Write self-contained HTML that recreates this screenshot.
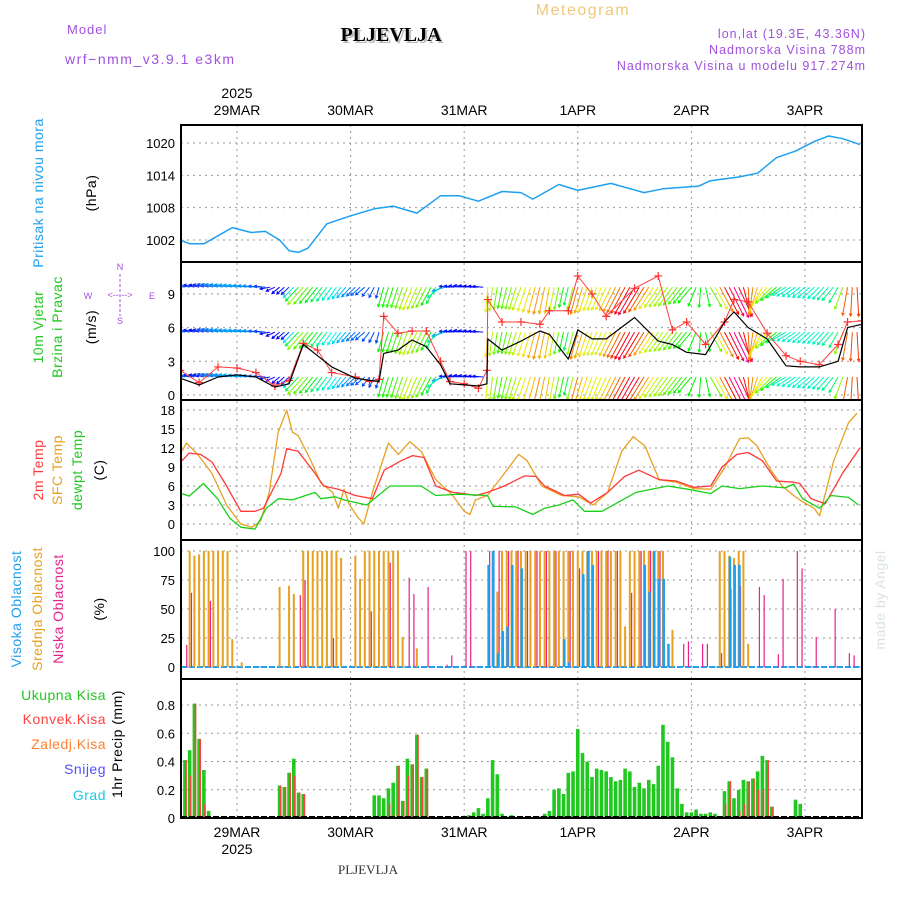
<!DOCTYPE html>
<html><head><meta charset="utf-8"><style>
body{margin:0;background:#fff}
svg text{font-family:"Liberation Sans",sans-serif}
</style></head><body>
<svg id="c" width="900" height="900" viewBox="0 0 900 900" xmlns="http://www.w3.org/2000/svg">
<text x="583" y="15" font-size="16" fill="#f0c878" text-anchor="middle" letter-spacing="1.5">Meteogram</text>
<text x="393" y="43" font-size="20" font-weight="bold" fill="#bbb" text-anchor="middle" style="font-family:'Liberation Serif',serif">PLJEVLJA</text>
<text x="391" y="41" font-size="20" font-weight="bold" fill="#000" text-anchor="middle" style="font-family:'Liberation Serif',serif">PLJEVLJA</text>
<text x="67" y="34" font-size="13" fill="#a050e0" letter-spacing="1">Model</text>
<text x="65" y="64" font-size="14" fill="#a050e0" letter-spacing="1.5">wrf−nmm_v3.9.1  e3km</text>
<text x="866" y="38" font-size="12.5" fill="#a050e0" text-anchor="end" letter-spacing="1">lon,lat (19.3E, 43.36N)</text>
<text x="866" y="54" font-size="12.5" fill="#a050e0" text-anchor="end" letter-spacing="1">Nadmorska Visina 788m</text>
<text x="866" y="70" font-size="12.5" fill="#a050e0" text-anchor="end" letter-spacing="1">Nadmorska Visina u modelu 917.274m</text>
<g id="g"></g>
</svg>
<script>
// ---------- data ----------
const dayLabels=["29MAR","30MAR","31MAR","1APR","2APR","3APR"];
const pHours=[-12,-10,-7,-4,-1,3,6,9,11,13,15,19,24,29,33,38,43,47,51,56,60,62.5,68,72,79,86,90,97.6,100,106,110,114,118,122,125,128,131.6];
const pVals=[1002,1001.3,1001.3,1002.8,1004.3,1003.4,1003.6,1002,1000,999.7,1000.5,1005,1006.5,1007.8,1008.3,1007,1010.2,1010.2,1009.2,1011,1010.8,1009.6,1012.3,1011.2,1012.5,1010.8,1011.5,1012,1013,1013.7,1014.4,1017.3,1018.5,1020.3,1021.3,1020.8,1019.7];
const pTicks=[1002,1008,1014,1020];
const wHours=[-12,-8,-4,0,4,8,11,14,17,20,25,28,30,31,34,37,40,43,45,48,51,52.8,53,56,60,64,66,70,72,75,78,84,89,92,95,99,103,105,108,112,116,119,123,127,129,132];
const wSpeed=[1.5,0.9,1.6,1.8,1.6,0.7,1.0,4.5,3.5,2.5,1.5,1.3,1.2,3.7,4.0,4.9,4.3,2.7,1.0,0.9,0.8,1.0,5.0,4.0,4.8,5.7,5.4,3.2,5.8,5.0,5.0,6.9,4.8,4.5,3.8,3.6,6.5,7.4,6.0,5.0,2.6,2.5,2.5,3.0,6.0,6.3];
const gVals=[2.2,1.1,2.5,2.4,2.0,0.8,1.3,4.6,4.0,2.0,1.6,1.2,1.4,7.0,5.5,5.7,5.7,3.0,1.2,1.0,0.6,2.2,8.5,6.5,6.5,6.3,7.5,7.5,10.6,9.0,7.0,9.5,10.6,5.8,6.5,4.5,6.5,8.5,8.3,5.5,3.5,3.0,2.7,4.5,6.5,6.6];
const wDirHours=[-12,-6,0,6,9,15,21,27,30,36,42,45,48,52,53,60,66,72,78,84,90,96,100,106,112,116,120,126,129,132];
const wDirs=[170,165,170,175,220,230,235,220,255,250,240,175,170,175,265,250,260,255,245,240,235,230,300,295,230,210,220,230,260,280];
const wTicks=[0,3,6,9];
const tHoursR=[-11.6,-10.1,-7.7,-5.3,-2.2,0.8,3.8,5.6,9.3,10.5,12.9,16.5,18.3,21.4,25,28.6,31.1,34.7,37.1,39.5,42,45.6,48,50.4,52.9,56.5,60.7,63.2,65,69.2,72.2,74.7,78.3,81.9,84.9,89.2,92.8,96.5,100.1,102.5,105.6,108,111,114,117.6,118.9,121.3,124.3,127.9,131.6];
const t2m=[10,11.2,11,9.8,6,2,2,2.5,8,11.9,11.5,8,6,5.5,4.5,4,8.5,10,10.8,10.5,6,5,4.8,4.5,5,6,7.6,7.5,6,4.5,4.7,3.3,5,7.5,8.5,7,6.8,5.8,6,9,11,11.3,10,6.8,6.6,6.4,4,3.2,8,12];
const tHoursS=[-11.6,-10.7,-8.3,-5.3,-2.2,0.8,3.2,5,6.8,8.7,10.5,11.7,12.9,15.3,17.7,20.2,21.4,22.6,23.8,25.6,26.8,28.6,32,34.1,36.5,38.9,42,45.6,48,49.2,50.4,52.9,56.5,59.5,61.3,64.4,68.6,72.2,75.3,78.3,81.3,83.7,86.2,89.2,92.8,96.5,100.1,103.1,106.2,108,109.8,112.8,115.2,117.6,119.5,121.9,123.1,126.1,129.2,131];
const tSfc=[11.5,12.8,11,8,3,0,-0.5,0.5,5,14.5,18,14.5,14,10.5,6.5,5,2.5,5.5,3,1,0,5,12.8,11,13,11.5,7,4.5,2,1.5,3.8,4.5,8,11,10,6,4.5,4.3,3,5,11.5,13.8,12.3,7,6.6,5.6,5.5,9,13.5,13.6,12.4,8.5,6,4.5,3.5,2.5,1.3,10,16,17.5];
const tHoursD=[-11.6,-10.1,-7.1,-4.1,-1.6,0.8,3.8,6.2,8.7,11.7,16.5,17.7,20.8,22.6,27.4,32.3,38.9,42,46.8,52.9,54.1,58.9,62.5,65,68,71,73.4,77.1,80.7,84.3,91,95.2,100.1,102.5,106.2,111,115.8,117.6,119.5,123.1,125.5,129.2,131.3];
const tDew=[4.8,4.4,6.4,4,1,-0.5,-0.8,2.5,4,3.8,5,4,4.3,3.8,3,6,6,4.5,4.7,4.5,2.8,2.7,1.5,2.5,3,3.8,2,2,3.5,5,6,5.5,4.8,6,5.6,6,5.7,6.3,4,2.5,4.5,4.2,3];
const tTicks=[0,3,6,9,12,15,18];
const midHours=[-10,-9,-8,-7,-6,-5,-4,-3,-2,-1,1,9,11,12,14,15,16,17,18,19,20,21,22,25,26,27,28,29,30,31,32,33,34,35,38,54,55,56,57,58,59,60,61,62,63,64,65,66,67,68,69,70,71,72,73,74,75,76,77,78,79,80,81,82,83,84,85,86,87,88,89,90,92,102,103,104,105,106,107,108];
const midVals=[100,96,97,100,100,100,100,100,100,24,4,69,70,63,100,100,100,100,100,100,100,100,94,96,76,100,100,100,100,100,100,100,100,26,16,100,65,100,100,100,100,100,100,100,100,100,100,100,100,100,100,100,100,100,100,100,100,100,100,100,100,100,100,35,100,100,100,100,100,100,100,100,32,100,100,96,94,100,100,20];
const lowHours=[-11,-10,-6,13,14,20,28,32,36,37,40,44,45,48,49,53,55,57,59,61,63,65,67,70,72,74,76,78,80,83,85,87,89,94,95,98,99,102,104,106,110,111,114,115,118,119,122,126,129,130];
const lowVals=[19,64,57,62,75,25,48,90,77,63,69,2,10,100,100,100,100,100,100,100,100,100,100,100,85,100,100,100,100,64,100,100,100,20,22,20,20,12,67,70,69,62,11,76,100,85,26,50,12,10];
const highHours=[53,54,55,56,57,58,60,69,70,73,74,75,86,87,88,89,90,91,104,105,106];
const highVals=[88,100,12,31,35,88,85,24,4,80,100,88,88,65,100,76,76,20,95,88,88];
const cTicks=[0,25,50,75,100];
const prHours=[-11,-10,-9,-8,-7,-6,9,10,11,12,13,14,29,30,31,32,33,34,35,36,37,38,39,40,49,50,51,52,53,54,55,56,57,58,64,65,66,67,68,69,70,71,72,73,74,75,76,77,78,79,80,81,82,83,84,85,86,87,88,89,90,91,92,93,94,95,96,97,98,99,100,101,102,103,104,105,106,107,108,109,110,111,112,113,117,118,119,120];
const prTotal=[.41,.48,.81,.56,.34,.05,.23,.22,.32,.42,.18,.17,.16,.16,.14,.21,.25,.37,.12,.42,.38,.59,.29,.35,.02,.04,.07,.03,.14,.41,.31,.03,.01,.02,.01,.03,.05,.2,.21,.17,.32,.33,.63,.46,.4,.29,.35,.34,.33,.29,.26,.27,.35,.33,.22,.25,.21,.27,.24,.37,.66,.54,.43,.21,.1,.04,.04,.06,.03,.03,.04,.03,.01,.19,.26,.14,.2,.27,.26,.28,.33,.44,.41,.08,.01,.13,.1,.01];
const prConv=[.41,.3,.81,.56,.1,0,.23,.22,.32,.3,.18,.17,0,0,0,.1,.02,.37,.12,.3,.38,.59,.29,.35,0,0,0,0,0,0,0,0,0,0,0,0,0,0,0,0,0,0,0,0,0,0,0,0,0,0,0,0,0,0,0,0,0,0,0,0,0,0,0,0,0,0,0,0,0,0,0,0,0,.1,.26,0,.05,.1,.26,.28,.2,.2,.41,.08,0,0,0,0];
const prTicks=[0,0.2,0.4,0.6,0.8];
// ---------- geometry ----------
const L=181,R=862;
const X=h=>237+4.733*h;
const panels={p:[125,262],w:[262,400],t:[400,540],c:[540,679],r:[679,818]};
const Yp=v=>143+(1020-v)*5.39;
const Yw=v=>395-v*11.23;
const Yt=v=>524-v*6.33;
const Yc=v=>667-v*1.16;
const Yr=v=>818-v*141.2;
const NS="http://www.w3.org/2000/svg";
const G=document.getElementById('g');
function mk(t,a,p){const e=document.createElementNS(NS,t);for(const k in a)e.setAttribute(k,a[k]);(p||G).appendChild(e);return e;}
// grid
for(let d=0;d<6;d++){const x=X(24*d);
 const l=mk('line',{x1:x,x2:x,y1:125,y2:818,stroke:'#999','stroke-dasharray':'2,4'});
 
 
 const t1=mk('text',{x:x,y:115,'font-size':14,'text-anchor':'middle'});t1.textContent=dayLabels[d];
 
 
 const t2=mk('text',{x:x,y:837,'font-size':14,'text-anchor':'middle'});t2.textContent=dayLabels[d];
 
 
}
[[X(0),98],[X(0),854]].forEach(p=>{const t=mk('text',{x:p[0],y:p[1],'font-size':14,'text-anchor':'middle'});t.textContent='2025';
 
 });
function ticks(arr,fy,fmt){arr.forEach(v=>{const y=fy(v);
 const l=mk('line',{x1:L,x2:R,y1:y,y2:y,stroke:'#999','stroke-dasharray':'2,4'});
 
 
 const t=mk('text',{x:L-6,y:y+5,'font-size':13,'text-anchor':'end'});t.textContent=fmt?fmt(v):v;
 
 });}
ticks(pTicks,Yp);ticks(wTicks,Yw);ticks(tTicks,Yt);ticks(cTicks,Yc);ticks(prTicks,Yr,v=>v===0?'0':v.toFixed(1));
function line(hs,vs,fy,col,name,w){const d=hs.map((h,i)=>(i?'L':'M')+X(h).toFixed(1)+','+fy(vs[i]).toFixed(1)).join('');
 const p=mk('path',{d:d,fill:'none',stroke:col,'stroke-width':w||1.3,'stroke-linejoin':'round'});
 
 return p;}
// clip for wind panel
const defs=mk('defs',{});const cp=mk('clipPath',{id:'cw'},defs);mk('rect',{x:L,y:262,width:R-L,height:138},cp);
const wg=mk('g',{'clip-path':'url(#cw)'});
// pressure
line(pHours,pVals,Yp,'#1ea0f0','pressure-line',1.5);
// wind arrows
function interp(hs,vs,h){if(h<=hs[0])return vs[0];for(let i=1;i<hs.length;i++)if(h<=hs[i]){const f=(h-hs[i-1])/(hs[i]-hs[i-1]);return vs[i-1]+f*(vs[i]-vs[i-1]);}return vs[vs.length-1];}
const rows=[9.6,5.6,1.6];
for(let h=-12;h<=132;h++){const s=interp(wHours,wSpeed,h);const a=interp(wDirHours,wDirs,h)*Math.PI/180;
 const len=7+s*3.6;const hue=((275-s*42)%360+360)%360;const col='hsl('+hue+',100%,48%)';
 rows.forEach(r=>{const x0=X(h),y0=Yw(r),x1=x0+len*Math.cos(a),y1=y0-len*Math.sin(a);
  const l=mk('path',{d:'M'+x0+','+y0+'L'+x1+','+y1+'M'+(x1-3*Math.cos(a-0.5))+','+(y1+3*Math.sin(a-0.5))+'L'+x1+','+y1+'L'+(x1-3*Math.cos(a+0.5))+','+(y1+3*Math.sin(a+0.5)),stroke:col,fill:'none','stroke-width':1},wg);
  
  });}
// gust + speed
const gl=line(wHours,gVals,Yw,'#ff4040','wind-gust-line',1);wg.appendChild(gl);
wHours.forEach((h,i)=>{const x=X(h),y=Yw(gVals[i]);const m=mk('path',{d:'M'+(x-4)+','+y+'H'+(x+4)+'M'+x+','+(y-4)+'V'+(y+4),stroke:'#ff3030','stroke-width':1.2},wg);
 
 });
const sl=line(wHours,wSpeed,Yw,'#000','wind-speed-line',1.2);wg.appendChild(sl);
// temps
line(tHoursS,tSfc,Yt,'#e8a020','sfc-temp-line',1.3);
line(tHoursR,t2m,Yt,'#ff3838','temp-2m-line',1.3);
line(tHoursD,tDew,Yt,'#18d018','dewpoint-line',1.3);
// clouds
function bars(hs,vs,fy,col,off,w,name){hs.forEach((h,i)=>{const y=fy(vs[i]);const b=mk('rect',{x:X(h)+off,y:y,width:w,height:Math.max(0,fy(0)-y),fill:col});
 
 });}
mk('line',{x1:L,x2:R,y1:Yc(0),y2:Yc(0),stroke:'#1ea0f0','stroke-width':2,'stroke-dasharray':'6,2'});
bars(midHours,midVals,Yc,'#e8a020',-1,2,'mid-cloud-bar');
bars(lowHours,lowVals,Yc,'#e8208a',1.2,1.2,'low-cloud-bar');
bars(highHours,highVals,Yc,'#1ea0f0',-0.5,2.5,'high-cloud-bar');
// precip
bars(prHours,prTotal,Yr,'#20c820',-1.8,3.6,'total-precip-bar');
bars(prHours,prConv,Yr,'#ff4040',0.3,1.6,'convective-precip-bar');
mk('line',{x1:L,x2:R,y1:817,y2:817,stroke:'#000','stroke-width':2,'stroke-dasharray':'6,2'});
// frames
Object.keys(panels).forEach(k=>{const p=panels[k];const r=mk('rect',{x:L,y:p[0],width:R-L,height:p[1]-p[0],fill:'none',stroke:'#000','stroke-width':2});
 
 });
// labels
function rt(txt,x,y,col,fs,name){const t=mk('text',{x:x,y:y,'font-size':fs||14,fill:col,'text-anchor':'middle',transform:'rotate(-90 '+x+' '+y+')','letter-spacing':0.5});t.textContent=txt;
 
 }
rt('Pritisak na nivou mora',43,193,'#1ea0f0',14,'pressure-axis-title');
rt('(hPa)',96,193,'#000',14,'pressure-unit');
rt('10m Vjetar',43,327,'#20c820',14,'wind-axis-title');
rt('Brzina i Pravac',62,327,'#20c820',14,'wind-axis-subtitle');
rt('(m/s)',96,327,'#000',14,'wind-unit');
rt('2m Temp',43,470,'#ff3838',14,'temp-2m-title');
rt('SFC Temp',62,470,'#e8a020',14,'sfc-temp-title');
rt('dewpt Temp',82,470,'#20c820',14,'dewpoint-title');
rt('(C)',104,470,'#000',14,'temp-unit');
rt('Visoka Oblacnost',21,609,'#1ea0f0',14,'high-cloud-title');
rt('Srednja Oblacnost',42,609,'#e8a020',14,'mid-cloud-title');
rt('Niska Oblacnost',63,609,'#e8208a',14,'low-cloud-title');
rt('(%)',104,609,'#000',14,'cloud-unit');
rt('1hr Precip (mm)',122,744,'#000',14,'precip-axis-title');
rt('made by Angel',885,600,'#d8e4d8',14,'watermark');
[['Ukupna Kisa','#20c820',700],['Konvek.Kisa','#ff4040',724],['Zaledj.Kisa','#ff8030',749],['Snijeg','#5050ff',774],['Grad','#20c8e0',800]].forEach(a=>{
 const t=mk('text',{x:106,y:a[2],'font-size':14,fill:a[1],'text-anchor':'end','letter-spacing':0.5});t.textContent=a[0];
 
 });
// compass
[['N',120,270],['S',120,324],['W',88,299],['E',152,299],['<-- -->',120,298]].forEach(a=>{const t=mk('text',{x:a[1],y:a[2],'font-size':9,fill:'#a050e0','text-anchor':'middle'});t.textContent=a[0];
 
 });
mk('line',{x1:120,x2:120,y1:274,y2:316,stroke:'#a050e0','stroke-dasharray':'3,2'});
const ft=mk('text',{x:368,y:874,'font-size':13,fill:'#333','text-anchor':'middle',style:"font-family:'Liberation Serif',serif"});ft.textContent='PLJEVLJA';


</script>
</body></html>
